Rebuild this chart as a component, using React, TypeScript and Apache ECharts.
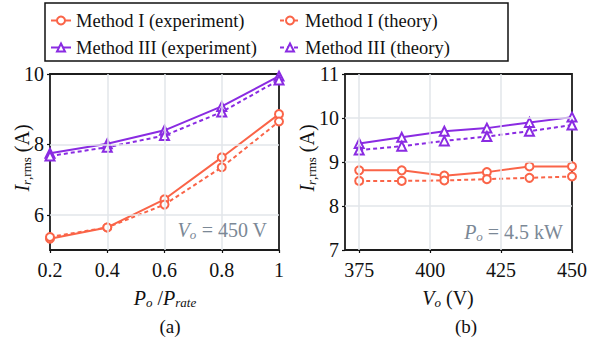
import React, { useEffect, useRef } from "react";
import * as echarts from "echarts";

const loadRatio = [0.2, 0.4, 0.6, 0.8, 1];
const aM1Exp = [5.32, 5.64, 6.44, 7.63, 8.86];
const aM1Th = [5.37, 5.64, 6.29, 7.35, 8.65];
const aM3Exp = [7.75, 8.02, 8.4, 9.08, 9.94];
const aM3Th = [7.67, 7.92, 8.25, 8.92, 9.83];

const vOut = [375, 390, 405, 420, 435, 450];
const bM1Exp = [8.81, 8.81, 8.69, 8.77, 8.9, 8.9];
const bM1Th = [8.57, 8.57, 8.58, 8.61, 8.64, 8.67];
const bM3Exp = [9.42, 9.56, 9.7, 9.77, 9.9, 10.02];
const bM3Th = [9.27, 9.36, 9.48, 9.58, 9.7, 9.84];

const aYTicks = [6, 8, 10];
const bXTicks = [375, 400, 425, 450];

const NAMES = [
  "Method I (experiment)",
  "Method I (theory)",
  "Method III (experiment)",
  "Method III (theory)",
];
const ORANGE = "#fa6448";
const PURPLE = "#8a2be2";
const GRIDC = "#e2e6ea";
const FONT = "Liberation Serif";
const ANNO = "#7b8896";

const zip = (xs: number[], ys: number[]) => xs.map((x, i) => [x, ys[i]]);

export default function App() {
  const ref = useRef<HTMLDivElement>(null);
  useEffect(() => {
    const chart = echarts.init(ref.current!, null, { renderer: "svg" });
    const mk = (name: string, idx: number, xs: number[], ys: number[]) => {
      const isI = name.startsWith("Method I ");
      const dashed = name.includes("theory");
      const color = isI ? ORANGE : PURPLE;
      return {
        type: "line",
        name,
        xAxisIndex: idx,
        yAxisIndex: idx,
        data: zip(xs, ys),
        symbol: isI ? "emptyCircle" : "emptyTriangle",
        symbolSize: isI ? 8 : 9,
        z: 3,
        color,
        lineStyle: { color, width: 2, type: dashed ? [4, 3] : "solid" },
        itemStyle: { color, borderWidth: 2 },
      };
    };
    const gridSeries = (idx: number, xs: number[], ys: number[], hLines: number[], vLines: number[]) => ({
      type: "line",
      xAxisIndex: idx,
      yAxisIndex: idx,
      data: zip(xs, ys),
      symbol: "none",
      lineStyle: { opacity: 0 },
      silent: true,
      z: 1,
      markLine: {
        silent: true,
        symbol: "none",
        label: { show: false },
        lineStyle: { color: GRIDC, width: 1.5, type: "solid" },
        data: [
          ...hLines.map((v) => ({ yAxis: v })),
          ...vLines.map((v) => ({ xAxis: v })),
        ],
      },
    });
    const labelStyle = { fontFamily: FONT, fontSize: 20, color: "#111" };
    const tick = { show: true, inside: false, length: 3, lineStyle: { color: "#111", width: 1.2 } };
    const mkRich = (fill: string) => ({
      i: { fontFamily: FONT, fontSize: 20, fontStyle: "italic", fill },
      u: { fontFamily: FONT, fontSize: 20, fill },
      s: { fontFamily: FONT, fontSize: 13, fontStyle: "italic", padding: [9, 0, 0, 0], fill },
      t: { fontFamily: FONT, fontSize: 13, padding: [9, 0, 0, 0], fill },
    });
    const blackRich = mkRich("#111");
    const grayRich = mkRich(ANNO);

    const legendCommon = {
      orient: "vertical",
      top: 11,
      padding: 0,
      itemWidth: 20,
      itemHeight: 10,
      itemGap: 8,
      textStyle: { fontFamily: FONT, fontSize: 18.5, color: "#111" },
    };

    chart.setOption({
      animation: false,
      backgroundColor: "#fff",
      grid: [
        { left: 50, top: 74, width: 229, height: 176, show: true, borderColor: "#1c1c1c", borderWidth: 1.8, backgroundColor: "transparent" },
        { left: 345, top: 74, width: 229, height: 176, show: true, borderColor: "#1c1c1c", borderWidth: 1.8, backgroundColor: "transparent" },
      ],
      legend: [
        { ...legendCommon, left: 50, data: [NAMES[0], NAMES[2]] },
        { ...legendCommon, left: 279, data: [NAMES[1], NAMES[3]] },
      ],
      xAxis: [
        {
          type: "value", gridIndex: 0, min: 0.2, max: 1, interval: 0.2,
          axisLine: { show: false }, axisTick: tick, splitLine: { show: false },
          axisLabel: { ...labelStyle, margin: 10, formatter: (v: number) => (Math.abs(v - 1) < 1e-9 ? "1" : String(+v.toFixed(1))) },
        },
        {
          type: "value", gridIndex: 1, min: 370, max: 450,
          axisLine: { show: false },
          axisTick: { ...tick, customValues: bXTicks },
          splitLine: { show: false },
          axisLabel: { ...labelStyle, margin: 10, customValues: bXTicks },
        },
      ],
      yAxis: [
        {
          type: "value", gridIndex: 0, min: 5, max: 10,
          axisLine: { show: false },
          axisTick: { ...tick, customValues: aYTicks },
          splitLine: { show: false },
          axisLabel: { ...labelStyle, margin: 6, customValues: aYTicks },
        },
        {
          type: "value", gridIndex: 1, min: 7, max: 11, interval: 1,
          axisLine: { show: false }, axisTick: tick, splitLine: { show: false },
          axisLabel: { ...labelStyle, margin: 6 },
        },
      ],
      series: [
        gridSeries(0, loadRatio, aM1Exp, [6, 8], [0.4, 0.6, 0.8]),
        gridSeries(1, vOut, bM1Exp, [8, 9, 10], [375, 400, 425]),
        mk(NAMES[0], 0, loadRatio, aM1Exp),
        mk(NAMES[1], 0, loadRatio, aM1Th),
        mk(NAMES[2], 0, loadRatio, aM3Exp),
        mk(NAMES[3], 0, loadRatio, aM3Th),
        mk(NAMES[0], 1, vOut, bM1Exp),
        mk(NAMES[1], 1, vOut, bM1Th),
        mk(NAMES[2], 1, vOut, bM3Exp),
        mk(NAMES[3], 1, vOut, bM3Th),
      ],
      graphic: [
        { type: "rect", shape: { x: 45, y: 3, width: 463, height: 58 }, style: { fill: "none", stroke: "#111", lineWidth: 1.5 }, z: 10 },
        {
          type: "text", x: 267, y: 230, z: 10,
          style: { text: "{i|V}{s|o}{u| = 450 V}", align: "right", verticalAlign: "middle", rich: grayRich },
        },
        {
          type: "text", x: 563, y: 232, z: 10,
          style: { text: "{i|P}{s|o}{u| = 4.5 kW}", align: "right", verticalAlign: "middle", rich: grayRich },
        },
        {
          type: "text", x: 165, y: 298, z: 10,
          style: { text: "{i|P}{s|o}{u| /}{i|P}{s|rate}", align: "center", verticalAlign: "middle", rich: blackRich },
        },
        {
          type: "text", x: 448, y: 298, z: 10,
          style: { text: "{i|V}{s|o}{u| (V)}", align: "center", verticalAlign: "middle", rich: blackRich },
        },
        { type: "text", x: 170, y: 326, z: 10, style: { text: "(a)", align: "center", verticalAlign: "middle", fontFamily: FONT, fontSize: 19, fill: "#111" } },
        { type: "text", x: 466, y: 326, z: 10, style: { text: "(b)", align: "center", verticalAlign: "middle", fontFamily: FONT, fontSize: 19, fill: "#111" } },
        {
          type: "text", x: 22, y: 158, rotation: Math.PI / 2, z: 10,
          style: { text: "{i|I}{s|r}{t|,rms}{u| (A)}", align: "center", verticalAlign: "middle", rich: blackRich },
        },
        {
          type: "text", x: 307, y: 158, rotation: Math.PI / 2, z: 10,
          style: { text: "{i|I}{s|r}{t|,rms}{u| (A)}", align: "center", verticalAlign: "middle", rich: blackRich },
        },
      ],
    });
    return () => chart.dispose();
  }, []);
  return <div ref={ref} style={{ position: "absolute", left: 0, top: 0, width: 590, height: 343 }} />;
}
